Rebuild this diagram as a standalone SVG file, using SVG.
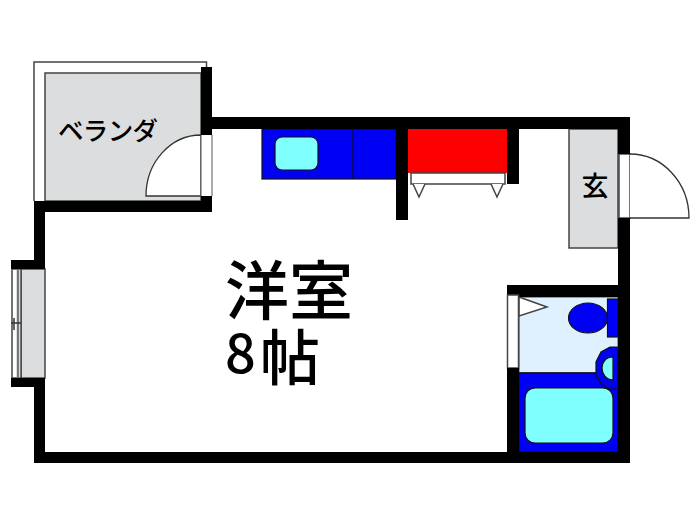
<svg xmlns="http://www.w3.org/2000/svg" width="700" height="525" viewBox="0 0 700 525">
<style>
.w{fill:#000}
.g{fill:#dcddde;stroke:#444;stroke-width:1.5}
.l{fill:#fff;stroke:#444;stroke-width:1.5}
.b{fill:#0000f5;stroke:#111;stroke-width:1.2}
.c{fill:#80ffff;stroke:#111;stroke-width:1.2}
text{font-family:"Noto Sans CJK JP","Noto Sans",sans-serif;fill:#000;font-weight:500}
</style>
<rect width="700" height="525" fill="#fff"/>
<g id="balcony">
<path class="l" d="M34 201V62H206.500V70"/>
<rect class="g" x="45" y="73" width="156" height="128"/>
<path d="M146 196A55 61 0 0 1 201 135V196Z" fill="#fff" stroke="#333" stroke-width="1.300"/>
<rect x="201" y="135" width="11" height="62" fill="#fff"/>
<path d="M201 135V196M212 135V196" stroke="#555" stroke-width="1" fill="none"/>
<text x="58" y="140" font-size="25.500" textLength="100">ベランダ</text>
</g>
<g id="window">
<rect class="g" x="21" y="269" width="24" height="109" stroke="none"/>
<rect class="l" x="12" y="269" width="9" height="109"/>
<path d="M18 269V378" stroke="#777" stroke-width="2.500" fill="none"/>
<path d="M11 323H21M14 318V330" stroke="#333" stroke-width="1.500" fill="none"/>
</g>
<g id="kitchen">
<rect class="b" x="262" y="129" width="134" height="50"/>
<path d="M353 129V179" stroke="#111" stroke-width="1.200"/>
<rect class="c" x="275" y="137" width="43" height="33" rx="7"/>
</g>
<g id="closet">
<rect x="408" y="129" width="99" height="44" fill="#f00"/>
<rect class="l" x="411" y="173" width="94" height="11"/>
<path class="l" d="M413 184L419 197L425 184M491 184L497 197L503 184"/>
</g>
<g id="entrance">
<rect class="g" x="569" y="129" width="49" height="119"/>
<text x="595" y="196" font-size="27" text-anchor="middle">玄</text>
<rect class="l" x="619" y="154" width="11" height="64"/>
<path d="M630 154A59 64 0 0 1 689 218H630" fill="#fff" stroke="#333" stroke-width="1.300"/>
</g>
<g id="bath">
<rect x="519" y="297" width="99" height="76" fill="#dff0ff" stroke="#444"/>
<path class="l" d="M519 297L547 307L519 316Z"/>
<rect class="b" x="519" y="373" width="99" height="79" stroke="none"/>
<path d="M519 373H596" stroke="#111" stroke-width="1.200"/>
<rect class="c" x="525" y="388" width="88" height="55" rx="10"/>
<ellipse class="b" cx="588" cy="318" rx="19.500" ry="15"/>
<rect class="b" x="607.500" y="299" width="10.500" height="38"/>
<path class="b" d="M618 347H610L601 352L596 362V375L602 385L610 389H618Z"/>
<path class="c" d="M613 357V380C606 380 602 374 602 368C602 362 606 357 613 357Z"/>
</g>
<g id="walls">
<rect class="w" x="201" y="67" width="11" height="68"/>
<rect class="w" x="201" y="196" width="11" height="16"/>
<rect class="w" x="34" y="201" width="178" height="11"/>
<rect class="w" x="212" y="117" width="418" height="12"/>
<rect class="w" x="34" y="212" width="11" height="48"/>
<rect class="w" x="11" y="260" width="34" height="9"/>
<rect class="w" x="11" y="378" width="34" height="9"/>
<rect class="w" x="34" y="387" width="11" height="76"/>
<rect class="w" x="34" y="452" width="596" height="11"/>
<rect class="w" x="618" y="117" width="12" height="37"/>
<rect class="w" x="618" y="218" width="12" height="245"/>
<rect class="w" x="396" y="117" width="12" height="103"/>
<rect class="w" x="507" y="129" width="12" height="55"/>
<rect class="w" x="507" y="285" width="111" height="12"/>
<rect class="l" x="507.500" y="295" width="11" height="73"/>
<rect class="w" x="507" y="368" width="12" height="95"/>
</g>
<g id="room">
<text x="225" y="314" font-size="64">洋室</text>
<text x="225" y="373" font-size="54" font-family="Liberation Sans">8</text>
<text x="260" y="380" font-size="60">帖</text>
</g>
<g id="connectors"></g>
</svg>
